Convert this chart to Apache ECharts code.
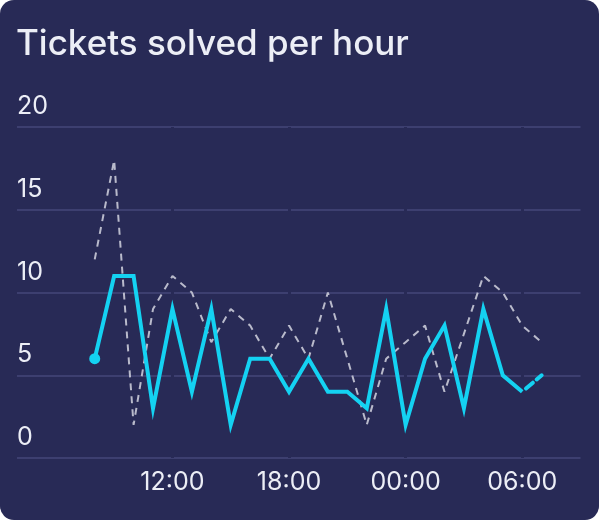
<!DOCTYPE html>
<html>
<head>
<meta charset="utf-8">
<script src="https://cdn.jsdelivr.net/npm/echarts@6/dist/echarts.min.js"></script>
<style>
  html, body { margin: 0; padding: 0; background: #ffffff; }
  #container {
    width: 599px;
    height: 520px;
    background: #282a56;
    border-radius: 14px;
    overflow: hidden;
  }
</style>
</head>
<body>
<div id="container"></div>
<script>
var dom = document.getElementById("container");
var myChart = echarts.init(dom);
var option;

// hourly slots shown on the axis (04:00 .. 09:00 next day)
var hours = ['04:00','05:00','06:00','07:00','08:00','09:00','10:00','11:00',
             '12:00','13:00','14:00','15:00','16:00','17:00','18:00','19:00',
             '20:00','21:00','22:00','23:00','00:00','01:00','02:00','03:00',
             '04:00','05:00','06:00','07:00','08:00','09:00'];
// labelled ticks (second half of the axis only)
var tickLabels = ['12:00', '18:00', '00:00', '06:00'];
var firstLabelIndex = 8;

// tickets solved today
var solved = [null, null, null, null,
              6, 11, 11, 3, 9, 4, 9, 2, 6, 6, 4, 6,
              4, 4, 3, 9, 2, 6, 8, 3, 9, 5, 4, null,
              null, null];
// current (incomplete) hour
var solvedNow = [null, null, null, null,
                 null, null, null, null, null, null, null, null, null, null, null, null,
                 null, null, null, null, null, null, null, null, null, null, 4, 5,
                 null, null];
// comparison (previous period)
var previous = [null, null, null, null,
                12, 18, 2, 9, 11, 10, 7, 9, 8, 6, 8, 6,
                10, 6, 2, 6, 7, 8, 4, 7.5, 11, 10, 8, 7,
                null, null];

var yTicks = { min: 0, max: 20, interval: 5 };

var bg = '#282a56';
var textColor = '#eceef6';

function showTick(index, value) {
    return index >= firstLabelIndex && tickLabels.indexOf(value) !== -1;
}

var firstPoint = solved.findIndex(function (v) { return v !== null; });
var solvedData = solved.map(function (v, i) {
    if (i === firstPoint) {
        return { value: v, symbol: 'circle', symbolSize: 11 };
    }
    return v;
});

option = {
    backgroundColor: 'transparent',
    title: {
        text: 'Tickets solved per hour',
        left: 11,
        top: 22,
        textStyle: {
            color: textColor,
            fontFamily: 'Inter',
            fontWeight: 500,
            fontSize: 35
        }
    },
    grid: {
        left: 17,
        right: 18.5,
        top: 127,
        bottom: 62
    },
    xAxis: {
        type: 'category',
        data: hours,
        boundaryGap: false,
        z: 1,
        axisLine: { show: false },
        axisTick: { show: false, interval: showTick },
        splitLine: {
            show: true,
            interval: showTick,
            lineStyle: { color: bg, width: 3 }
        },
        axisLabel: {
            interval: showTick,
            color: textColor,
            fontFamily: 'Inter',
            fontSize: 25,
            margin: 12
        }
    },
    yAxis: {
        type: 'value',
        min: yTicks.min,
        max: yTicks.max,
        interval: yTicks.interval,
        z: 0,
        axisLine: { show: false },
        axisTick: { show: false },
        splitLine: {
            lineStyle: { color: '#44477a', width: 1.5 }
        },
        axisLabel: {
            inside: true,
            margin: 0,
            verticalAlign: 'bottom',
            padding: [0, 0, 8, 0],
            color: textColor,
            fontFamily: 'Inter',
            fontSize: 25
        }
    },
    series: [
        {
            name: 'Previous',
            type: 'line',
            z: 2,
            symbol: 'none',
            connectNulls: false,
            lineStyle: {
                color: '#b9bacb',
                width: 2,
                type: [7, 6]
            },
            data: previous
        },
        {
            name: 'Solved',
            type: 'line',
            z: 3,
            symbol: 'none',
            showSymbol: true,
            itemStyle: { color: '#14d2f2' },
            lineStyle: {
                color: '#14d2f2',
                width: 4,
                join: 'miter'
            },
            data: solvedData
        },
        {
            name: 'Solved now',
            type: 'line',
            z: 3,
            symbol: 'none',
            lineStyle: {
                color: '#14d2f2',
                width: 4,
                type: [9, 5],
                dashOffset: 9,
                cap: 'round'
            },
            data: solvedNow
        }
    ]
};

if (option && typeof option === 'object') {
    myChart.setOption(option);
}
</script>
</body>
</html>
